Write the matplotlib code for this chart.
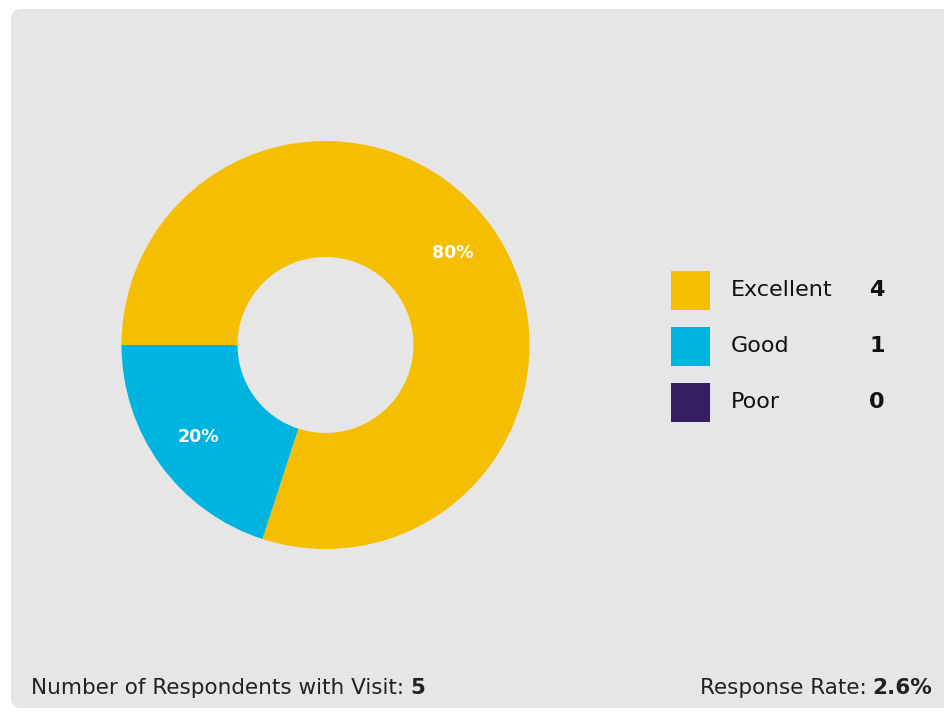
import matplotlib.pyplot as plt
from matplotlib.patches import FancyBboxPatch, Rectangle

# survey answers
labels = ["Excellent", "Good", "Poor"]
counts = [4, 1, 0]
colors = ["#F5BE00", "#00B4E0", "#351F63"]
respondents = 5
response_rate = "2.6%"

W, H = 944, 712
fig = plt.figure(figsize=(W / 100, H / 100), dpi=100)
fig.patch.set_facecolor("white")
ax = fig.add_axes([0, 0, 1, 1])

# card background
card = FancyBboxPatch((11, H - 708), 960, 699,
                      boxstyle="round,pad=0,rounding_size=10",
                      facecolor="#E6E6E6", edgecolor="none", zorder=0)
ax.add_patch(card)

# donut, only non-empty slices are drawn
vals = [c for c in counts if c > 0]
cols = [colors[i] for i, c in enumerate(counts) if c > 0]
wedges, texts, autotexts = ax.pie(
    vals, colors=cols, startangle=180, counterclock=False,
    center=(325.5, H - 345), radius=204,
    wedgeprops=dict(width=204 - 88, linewidth=0),
    autopct=lambda p: "%d%%" % round(p), pctdistance=0.77,
    textprops=dict(color="white", fontsize=12.5, fontweight="bold",
                   family="DejaVu Sans"),
    frame=True)
for w in wedges:
    w.set_zorder(2)
for t in autotexts:
    t.set_zorder(3)

ax.set_xlim(0, W)
ax.set_ylim(0, H)
ax.set_aspect("equal")
ax.axis("off")

# legend rows
for i, (lab, n, c) in enumerate(zip(labels, counts, colors)):
    yc = H - (290 + i * 56)
    ax.add_patch(Rectangle((671, yc - 19.5), 39, 39, facecolor=c,
                           edgecolor="none", zorder=2))
    ax.text(731, yc, lab, fontsize=16, va="center", ha="left",
            color="#111111", family="DejaVu Sans", zorder=3)
    ax.text(877, yc, str(n), fontsize=16, va="center", ha="center",
            fontweight="bold", color="#111111", family="DejaVu Sans", zorder=3)

# footer
fs = 15.5
t1 = ax.text(31, H - 688, "Number of Respondents with Visit:", fontsize=fs,
             va="center", ha="left", color="#222222", family="DejaVu Sans")
fig.canvas.draw()
bb = t1.get_window_extent()
ax.text(bb.x1 + 6, H - 688, str(respondents), fontsize=fs, fontweight="bold",
        va="center", ha="left", color="#222222", family="DejaVu Sans")

t2 = ax.text(932, H - 688, response_rate, fontsize=fs, fontweight="bold",
             va="center", ha="right", color="#222222", family="DejaVu Sans")
fig.canvas.draw()
bb2 = t2.get_window_extent()
ax.text(bb2.x0 - 6, H - 688, "Response Rate:", fontsize=fs,
        va="center", ha="right", color="#222222", family="DejaVu Sans")

fig.savefig("out.png", dpi=100, facecolor="white")
